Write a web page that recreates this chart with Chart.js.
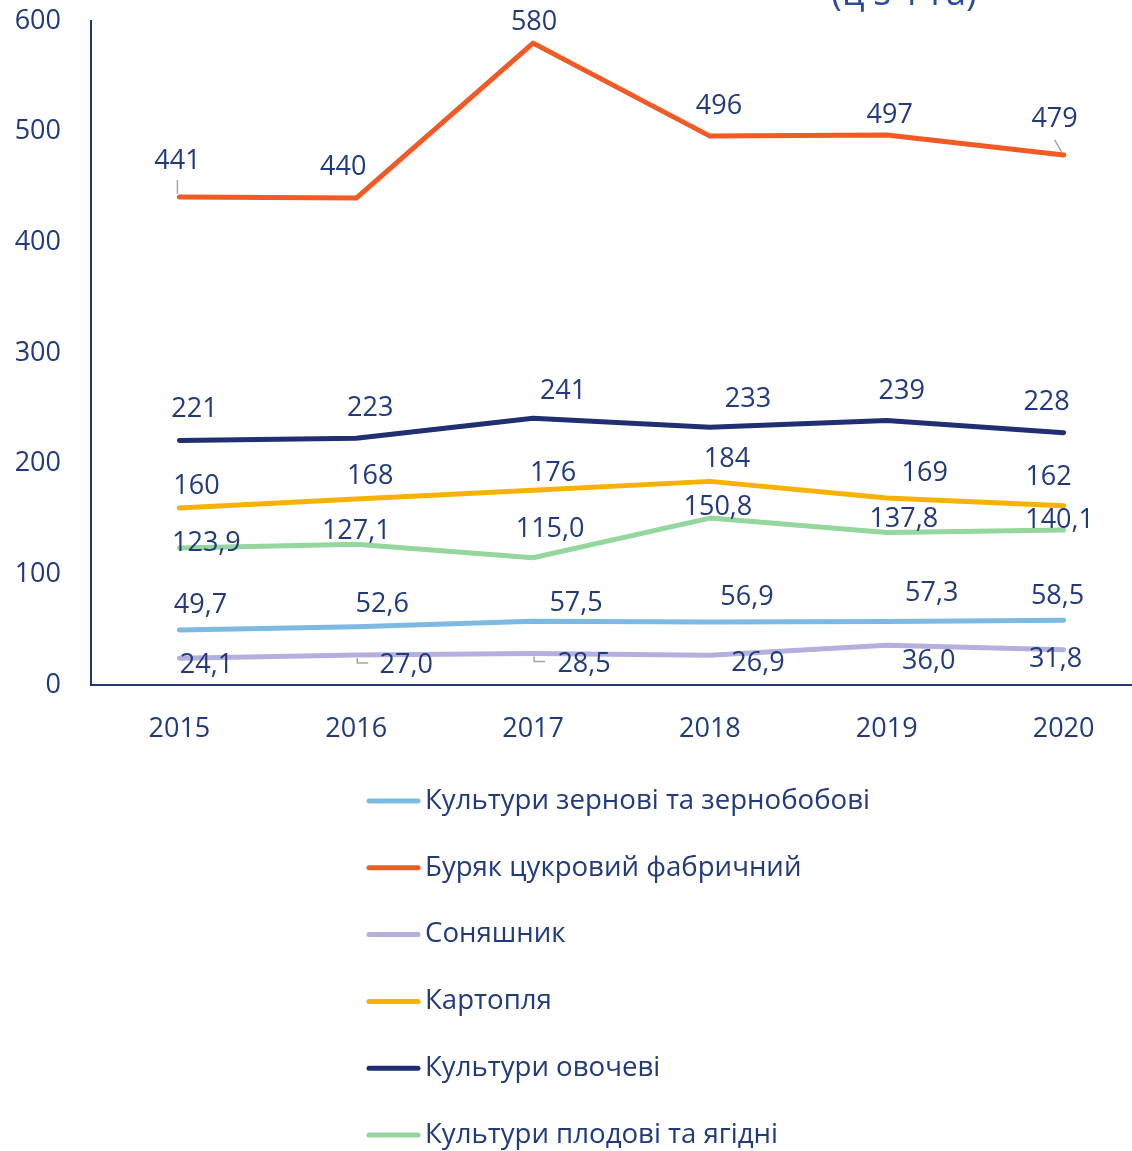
<!DOCTYPE html>
<html><head><meta charset="utf-8">
<script src="https://cdn.jsdelivr.net/npm/chart.js@4"></script>
<style>html,body{margin:0;padding:0;overflow:hidden;background:#fff}</style>
</head><body>
<canvas id="c" width="1152" height="1151" style="display:block"></canvas>
<script>
// ---- data ----
const years = ['2015', '2016', '2017', '2018', '2019', '2020'];
const grain = [49.7, 52.6, 57.5, 56.9, 57.3, 58.5];
const beet = [441, 440, 580, 496, 497, 479];
const sunflower = [24.1, 27.0, 28.5, 26.9, 36.0, 31.8];
const potato = [160, 168, 176, 184, 169, 162];
const vegetables = [221, 223, 241, 233, 239, 228];
const fruit = [123.9, 127.1, 115.0, 150.8, 137.8, 140.1];
const seriesNames = [
  'Культури зернові та зернобобові',
  'Буряк цукровий фабричний',
  'Соняшник',
  'Картопля',
  'Культури овочеві',
  'Культури плодові та ягідні'
];
const titleText = '(ц з 1 га)';
const yMin = 0, yMax = 600, yStep = 100;

// ---- styling ----
const TEXT = '#213A7C';
const FONT = '"Open Sans", sans-serif';
const colors = ['#7CB9E3', '#F15A24', '#B4AFDC', '#F7B100', '#1F2F72', '#93D69E'];
const decimals = [1, 0, 1, 0, 0, 1];
// label offsets (dx, dy) relative to each point, per series
const labelOffsets = [
  [[21,-25],[26,-22],[43,-18],[37,-25],[45,-28],[-6,-24]],
  [[-2,-36],[-13,-31],[1,-21],[9,-30],[3,-20],[-9,-36]],
  [[27,7],[50,10],[51,11],[48,8],[42,16],[-8,10]],
  [[17,-22],[14,-23],[20,-17],[17,-22],[38,-25],[-15,-28]],
  [[15,-31],[14,-30],[30,-27],[38,-28],[15,-29],[-17,-30]],
  [[27,-5],[0,-13],[17,-28],[8,-11],[17,-13],[-4,-10]]
];
// leader lines: [series, index]
const leaders = [[1,0],[1,5],[2,1],[2,2]];

const seriesData = [grain, beet, sunflower, potato, vegetables, fruit];

const fmt = (v, d) => v.toFixed(d).replace('.', ',');

const labelPlugin = {
  id: 'valueLabels',
  afterDatasetsDraw(chart) {
    const ctx = chart.ctx;
    ctx.save();
    ctx.strokeStyle = '#A6A6A6';
    ctx.lineWidth = 1.5;
    leaders.forEach(([s, i]) => {
      const p = chart.getDatasetMeta(s).data[i];
      ctx.beginPath();
      if (s === 1 && i === 0) { ctx.moveTo(p.x - 2, p.y - 3); ctx.lineTo(p.x - 2, p.y - 17); }
      else if (s === 1 && i === 5) { ctx.moveTo(p.x - 2, p.y - 3); ctx.lineTo(p.x - 9, p.y - 15); }
      else { ctx.moveTo(p.x + 1, p.y + 3); ctx.lineTo(p.x + 1, p.y + 8); ctx.lineTo(p.x + 12, p.y + 8); }
      ctx.stroke();
    });
    ctx.fillStyle = TEXT;
    ctx.font = '27px ' + FONT;
    ctx.textAlign = 'center';
    ctx.textBaseline = 'middle';
    chart.data.datasets.forEach((ds, s) => {
      const meta = chart.getDatasetMeta(s);
      meta.data.forEach((pt, i) => {
        const [dx, dy] = labelOffsets[s][i];
        ctx.fillText(fmt(ds.data[i], decimals[s]), pt.x + dx, pt.y + dy);
      });
    });
    ctx.restore();
  }
};

const legendPlugin = {
  id: 'vertLegend',
  afterDraw(chart) {
    const ctx = chart.ctx;
    ctx.save();
    ctx.font = '27.6px ' + FONT;
    ctx.textBaseline = 'middle';
    ctx.textAlign = 'left';
    chart.data.datasets.forEach((ds, s) => {
      const y = 801 + s * 66.8;
      ctx.strokeStyle = ds.borderColor;
      ctx.lineWidth = 5;
      ctx.lineCap = 'round';
      ctx.beginPath();
      ctx.moveTo(369, y); ctx.lineTo(418, y);
      ctx.stroke();
      ctx.fillStyle = TEXT;
      ctx.fillText(ds.label, 425, y);
    });
    // partially visible title (cut off at the top edge)
    ctx.font = '36px ' + FONT;
    ctx.textAlign = 'center';
    ctx.textBaseline = 'alphabetic';
    ctx.fillStyle = '#2A4A9A';
    ctx.fillText(titleText, 904, 5);
    ctx.restore();
  }
};

new Chart(document.getElementById('c'), {
  type: 'line',
  data: {
    labels: years,
    datasets: seriesData.map((d, i) => ({
      label: seriesNames[i],
      data: d,
      borderColor: colors[i],
      backgroundColor: colors[i],
      borderWidth: 5,
      borderCapStyle: 'round',
      borderJoinStyle: 'round',
      pointRadius: 0,
      tension: 0,
      fill: false
    }))
  },
  options: {
    responsive: false,
    animation: false,
    layout: { padding: { top: 21, left: 0, right: 0, bottom: 386 } },
    plugins: { legend: { display: false }, tooltip: { enabled: false }, title: { display: false } },
    scales: {
      x: {
        offset: true,
        grid: { display: false },
        border: { display: true, color: '#22357A', width: 2 },
        ticks: { color: TEXT, font: { family: FONT, size: 27 }, padding: 20 },
        afterFit(s) { s.height = 80; s.paddingLeft = 0; s.paddingRight = 0; }
      },
      y: {
        min: yMin, max: yMax,
        grid: { display: false },
        border: { display: true, color: '#22357A', width: 2 },
        ticks: { stepSize: yStep, color: TEXT, font: { family: FONT, size: 27 }, padding: 22 },
        afterFit(s) { s.width = 91; s.paddingTop = 0; s.paddingBottom = 0; }
      }
    }
  },
  plugins: [labelPlugin, legendPlugin]
});
</script>
</body></html>
